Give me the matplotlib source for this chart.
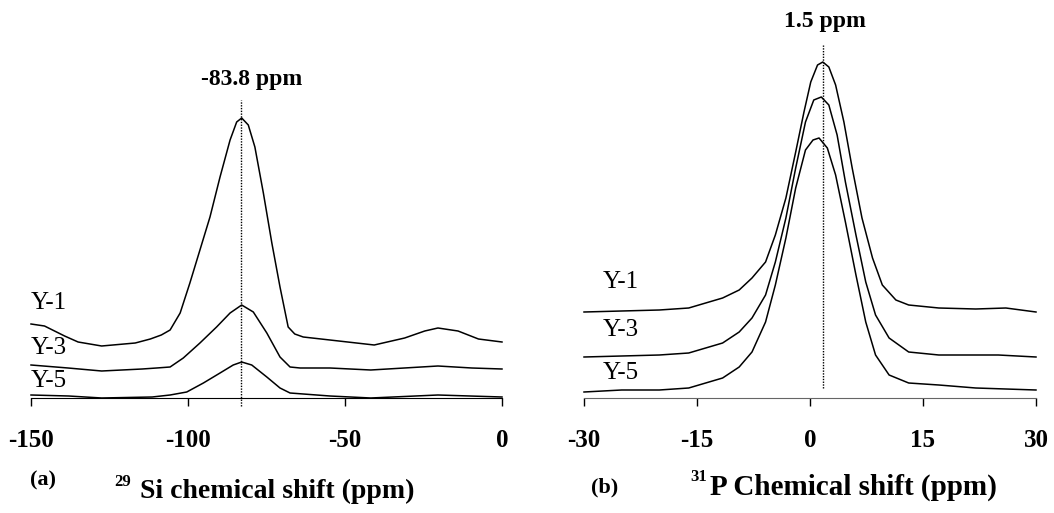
import matplotlib
matplotlib.use("Agg")
import matplotlib.pyplot as plt

plt.rcParams['font.family'] = ['Liberation Serif', 'DejaVu Serif']
plt.rcParams['font.weight'] = 'bold'

# 29Si spectra (ppm, intensity)
si_y1_x = [-150, -145.7, -139.3, -135, -127.5, -116.8, -112, -108.5, -105.7, -102.5, -99.4, -96.2,
           -93.0, -89.8, -86.6, -84.5, -82.9, -80.8, -78.7, -76.0, -73.3, -70.7, -68.1, -66.0,
           -63.3, -54.8, -40.7, -31, -24.6, -20.4, -14, -7.5, 0]
si_y1_y = [74, 72, 62, 56, 52, 55, 59, 63, 68, 85, 115, 148,
           181, 221, 258, 276, 280, 273, 251, 205, 155, 111, 71, 64,
           61, 58, 53, 60, 67, 70, 67, 59, 56]
si_y3_x = [-150, -138.2, -127.5, -114.6, -110, -105.7, -101.5, -96.2, -90.9, -86.6, -82.9, -79.2,
           -74.9, -70.7, -67.5, -64.3, -54.8, -41.8, -20.4, -9.6, 0]
si_y3_y = [33, 30, 27, 29, 30, 31, 40, 55, 71, 85, 93, 86,
           65, 41, 31, 30, 30, 28, 32, 30, 29]
si_y5_x = [-150, -138, -127.5, -111.4, -105.7, -100.4, -95.1, -89.8, -85.6, -82.9, -79.7, -74.9,
           -70.7, -67.5, -54.8, -41.8, -20.4, 0]
si_y5_y = [3, 2, 0, 1, 3, 6, 15, 25, 33, 36, 33, 21,
           10, 5, 2, 0, 3, 1]

# 31P spectra (ppm, intensity)
p_y1_x = [-30, -25, -20, -16.1, -11.6, -9.4, -7.7, -5.9, -4.6, -3.2, -1.9, -0.8, 0.1, 1.0, 1.7,
          2.5, 3.4, 4.5, 5.6, 6.9, 8.3, 9.6, 11.4, 13.1, 17.1, 22, 26, 30]
p_y1_y = [86, 87, 88, 90, 100, 108, 120, 136, 163, 200, 246, 286, 316, 333, 336,
          331, 313, 276, 230, 180, 140, 113, 98, 93, 90, 89, 90, 86]
p_y3_x = [-30, -25, -20, -16.1, -11.6, -9.4, -7.7, -5.9, -4.6, -3.2, -1.9, -0.6, 0.5, 1.5,
          2.5, 3.6, 4.7, 6.1, 7.4, 8.7, 10.5, 13.1, 17.1, 25, 30]
p_y3_y = [41, 42, 43, 45, 55, 66, 80, 103, 136, 180, 230, 276, 298, 301,
          293, 263, 216, 163, 116, 83, 60, 46, 43, 43, 41]
p_y5_x = [-30, -25, -20, -16.1, -11.6, -9.4, -7.7, -5.9, -4.6, -3.2, -1.9, -0.6, 0.4, 1.2,
          2.3, 3.4, 4.7, 6.1, 7.4, 8.7, 10.5, 13.1, 17.1, 22, 30]
p_y5_y = [6, 8, 8, 10, 20, 31, 46, 76, 113, 160, 210, 248, 258, 260,
          250, 223, 176, 123, 76, 43, 23, 15, 13, 10, 8]

si_ticks = [-150, -100, -50, 0]
p_ticks = [-30, -15, 0, 15, 30]
si_peak = -83.0
p_peak = 1.7
sample_names = ['Y-1', 'Y-3', 'Y-5']

W, H = 1054, 513
fig = plt.figure(figsize=(W / 100, H / 100), dpi=100)


def fx(px):
    return px / W


def fy(py):
    return 1 - py / H


ax1 = fig.add_axes([fx(31), fy(398), fx(471), 398 / H])
ax2 = fig.add_axes([fx(584), fy(398), fx(452), 398 / H])

for ax, xs, ys in [(ax1, [si_y1_x, si_y3_x, si_y5_x], [si_y1_y, si_y3_y, si_y5_y]),
                   (ax2, [p_y1_x, p_y3_x, p_y5_x], [p_y1_y, p_y3_y, p_y5_y])]:
    for x, y in zip(xs, ys):
        ax.plot(x, y, color='black', lw=1.1, clip_on=False)
    ax.set_ylim(0, 398)
    for s in ['top', 'left', 'right']:
        ax.spines[s].set_visible(False)
    ax.set_yticks([])
    ax.tick_params(axis='x', direction='out', length=6, width=1, labelsize=18, pad=16)

ax1.set_xlim(-150, 0)
ax1.set_xticks(si_ticks)
ax1.set_xticklabels([str(t) for t in si_ticks])
ax2.set_xlim(-30, 30)
ax2.set_xticks(p_ticks)
ax2.set_xticklabels([str(t) for t in p_ticks])
ax2.spines['bottom'].set_color('#666666')

# peak markers
ax1.plot([si_peak, si_peak], [-8, 298], color='black', lw=1, ls=(0, (1, 1)), clip_on=False)
ax2.plot([p_peak, p_peak], [10, 353], color='black', lw=1, ls=(0, (1, 1)), clip_on=False)
fig.text(fx(252), fy(80), '-83.8 ppm', ha='center', va='center', fontsize=17)
fig.text(fx(825), fy(22), '1.5 ppm', ha='center', va='center', fontsize=17)

# sample labels
for name, yv in zip(sample_names, [95, 50, 17]):
    ax1.text(-150, yv, name, ha='left', va='center', fontsize=18, fontweight='normal')
for name, yv in zip(sample_names, [116, 68, 25]):
    ax2.text(-27.5, yv, name, ha='left', va='center', fontsize=18, fontweight='normal')

# axis titles
fig.text(fx(43), fy(480), '(a)', ha='center', va='center', fontsize=16)
t1 = fig.text(fx(277), fy(491), 'Si chemical shift (ppm)', ha='center', va='center', fontsize=20)
fig.text(fx(605), fy(487), '(b)', ha='center', va='center', fontsize=16)
t2 = fig.text(fx(853), fy(487), 'P Chemical shift (ppm)', ha='center', va='center', fontsize=21)
plt.annotate('29', xy=(0, 0.84), xycoords=t1, xytext=(-6, 0), textcoords='offset points',
             ha='right', va='center', fontsize=12)
plt.annotate('31', xy=(0, 0.86), xycoords=t2, xytext=(-2, 0), textcoords='offset points',
             ha='right', va='center', fontsize=12)

plt.savefig('out.png', dpi=100)
